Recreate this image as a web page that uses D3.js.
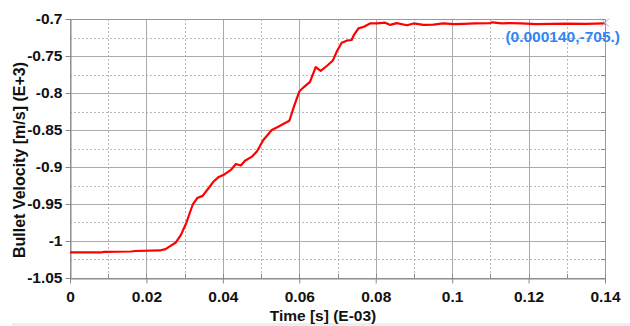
<!DOCTYPE html>
<html><head><meta charset="utf-8">
<script src="https://cdn.jsdelivr.net/npm/d3@7"></script>
<style>body{margin:0;background:#fff;}svg{display:block;font-family:"Liberation Sans",Arial,sans-serif;}</style>
</head><body><svg id="c" width="630" height="326"></svg>
<script>
const time = [0,0.008,0.009,0.016,0.017,0.0235,0.025,0.0262,0.0277,0.029,0.0304,0.0321,0.0333,0.0347,0.0362,0.0375,0.0388,0.0404,0.0421,0.0434,0.0447,0.0458,0.0476,0.0489,0.0506,0.0528,0.0545,0.0558,0.0574,0.0586,0.060,0.0612,0.0628,0.0643,0.0656,0.0672,0.0688,0.0698,0.0711,0.0724,0.0737,0.0743,0.0755,0.0769,0.0785,0.0803,0.0825,0.0838,0.0855,0.0882,0.0899,0.0925,0.0951,0.0977,0.1004,0.1030,0.1060,0.1100,0.1105,0.1130,0.1150,0.1180,0.1220,0.1260,0.1300,0.1350,0.14];
const velocity = [-1.0155,-1.0155,-1.0148,-1.0142,-1.0135,-1.0128,-1.011,-1.007,-1.002,-0.992,-0.976,-0.951,-0.942,-0.939,-0.929,-0.920,-0.914,-0.910,-0.904,-0.896,-0.898,-0.8915,-0.886,-0.879,-0.8635,-0.850,-0.8455,-0.842,-0.8375,-0.8185,-0.798,-0.792,-0.785,-0.765,-0.770,-0.7635,-0.756,-0.744,-0.732,-0.7293,-0.7284,-0.7216,-0.7126,-0.7104,-0.706,-0.706,-0.705,-0.708,-0.7055,-0.7085,-0.706,-0.708,-0.7077,-0.706,-0.707,-0.7065,-0.706,-0.7055,-0.7045,-0.706,-0.7055,-0.706,-0.7068,-0.7065,-0.7062,-0.7065,-0.706];
const xTicks = [0,0.02,0.04,0.06,0.08,0.1,0.12,0.14];
const xMinor = [0.01,0.03,0.05,0.07,0.09,0.11,0.13];
const yTicks = [-0.7,-0.75,-0.8,-0.85,-0.9,-0.95,-1,-1.05];
const yMinor = [-0.725,-0.775,-0.825,-0.875,-0.925,-0.975,-1.025];
const xTitle = "Time [s] (E-03)";
const yTitle = "Bullet Velocity [m/s] (E+3)";
const probeLabel = "(0.000140,-705.)";
const probe = {t:0.14, v:-0.705};

const svg = d3.select("#c");
const L=70, R=605, T=19, B=278;
const x = d3.scaleLinear().domain([0,0.14]).range([L,R]);
const y = d3.scaleLinear().domain([-1.05,-0.7]).range([B,T]);

svg.append("rect").attr("x",12).attr("y",323).attr("width",618).attr("height",3).attr("fill","#eeeeee");

const g = svg.append("g");
g.selectAll(".xm").data(xMinor).join("line").attr("x1",d=>Math.round(x(d))+0.5).attr("x2",d=>Math.round(x(d))+0.5).attr("y1",T).attr("y2",B).attr("stroke","#b8b8b8").attr("stroke-dasharray","2,2");
g.selectAll(".ym").data(yMinor).join("line").attr("y1",d=>Math.round(y(d))+0.5).attr("y2",d=>Math.round(y(d))+0.5).attr("x1",L).attr("x2",R).attr("stroke","#b8b8b8").attr("stroke-dasharray","2,2");
g.selectAll(".xg").data(xTicks).join("line").attr("x1",d=>Math.round(x(d))+0.5).attr("x2",d=>Math.round(x(d))+0.5).attr("y1",T).attr("y2",B).attr("stroke","#aaaaaa");
g.selectAll(".yg").data(yTicks).join("line").attr("y1",d=>Math.round(y(d))+0.5).attr("y2",d=>Math.round(y(d))+0.5).attr("x1",L).attr("x2",R).attr("stroke","#aaaaaa");

svg.append("rect").attr("x",L+0.5).attr("y",T+0.5).attr("width",R-L).attr("height",B-T).attr("fill","none").attr("stroke","#999999");

const fmt = d=>String(+d.toFixed(3));
const xAxis = d3.axisBottom(x).tickValues(xTicks).tickFormat(fmt).tickSize(5).tickSizeOuter(0).tickPadding(7);
const gx = svg.append("g").attr("transform",`translate(0,${B+0.5})`).call(xAxis);
const yAxis = d3.axisLeft(y).tickValues(yTicks).tickFormat(fmt).tickSize(5).tickSizeOuter(0).tickPadding(3);
const gy = svg.append("g").attr("transform",`translate(${L+0.5},0)`).call(yAxis);
[gx,gy].forEach(a=>{
  a.select(".domain").attr("stroke","#888888");
  a.selectAll(".tick line").attr("stroke","#888888");
  a.selectAll("text").attr("fill","#111").attr("font-size","15.5px").attr("font-weight","bold").attr("font-family","'Liberation Sans',Arial,sans-serif");
});
svg.append("g").selectAll("line").data(xTicks.concat(xMinor)).join("line").attr("x1",d=>Math.round(x(d))+0.5).attr("x2",d=>Math.round(x(d))+0.5).attr("y1",B).attr("y2",B-4).attr("stroke","#888888");
svg.append("g").selectAll("line").data(yTicks.concat(yMinor)).join("line").attr("y1",d=>Math.round(y(d))+0.5).attr("y2",d=>Math.round(y(d))+0.5).attr("x1",R).attr("x2",R-4).attr("stroke","#888888");

svg.append("text").attr("x",323).attr("y",321).attr("text-anchor","middle").attr("font-size","15.5px").attr("font-weight","bold").attr("fill","#111").text(xTitle);
svg.append("text").attr("transform","translate(25,160) rotate(-90)").attr("text-anchor","middle").attr("font-size","16px").attr("font-weight","bold").attr("fill","#111").text(yTitle);

const pts = time.map((t,i)=>[t,velocity[i]]);
svg.append("path").datum(pts).attr("fill","none").attr("stroke","#ff0000").attr("stroke-width",2.2).attr("stroke-linejoin","round")
  .attr("d",d3.line().x(d=>x(d[0])).y(d=>y(d[1])));

const px=x(probe.t), py=y(probe.v);
svg.append("path").attr("d",`M${px-4},${py-4}L${px+4},${py+4}M${px-4},${py+4}L${px+4},${py-4}`).attr("stroke","#8fb8e8").attr("stroke-width",1);
svg.append("text").attr("x",px+15).attr("y",py+19).attr("text-anchor","end").attr("font-size","15.5px").attr("font-weight","bold").attr("fill","#2f86f5").text(probeLabel);
</script></body></html>
